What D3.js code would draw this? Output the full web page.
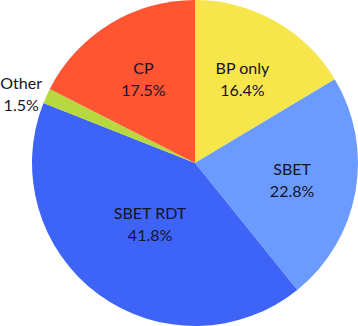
<!DOCTYPE html>
<html><head><meta charset="utf-8">
<script src="https://cdn.jsdelivr.net/npm/d3@7"></script>
<style>html,body{margin:0;padding:0;background:#fff;}svg{display:block;}</style>
</head><body>
<svg id="chart" width="358" height="326"></svg>
<script>
const categories = ["BP only", "SBET", "SBET RDT", "Other", "CP"];
const values = [16.4, 22.8, 41.8, 1.5, 17.5];
const labels = ["16.4%", "22.8%", "41.8%", "1.5%", "17.5%"];
const colors = ["#F6E64C", "#6B9BFF", "#3D64F6", "#B7D83E", "#FF5533"];
const labelRadius = [0.59, 0.605, 0.465, 1.17, 0.605];
const labelShift = [0, 0, 0, 9, 0];

const svg = d3.select("#chart");
const cx = 195, cy = 163, r = 163;
const g = svg.append("g").attr("transform", `translate(${cx},${cy})`);
const pie = d3.pie().sort(null).value(d => d)(values);
const arc = d3.arc().innerRadius(0).outerRadius(r);
g.selectAll("path").data(pie).join("path")
  .attr("d", arc).attr("fill", (d, i) => colors[i]);

const lbl = g.selectAll("text.l").data(pie).join("text")
  .attr("class", "l")
  .attr("text-anchor", "middle")
  .attr("font-family", "Lato, 'Open Sans', sans-serif")
  .attr("font-size", 16)
  .attr("fill", "#141428")
  .attr("transform", (d, i) => {
    const a = (d.startAngle + d.endAngle) / 2;
    const rr = r * labelRadius[i];
    return `translate(${Math.sin(a) * rr},${-Math.cos(a) * rr + labelShift[i]})`;
  });
lbl.append("tspan").attr("x", 0).attr("y", -5).text((d, i) => categories[i]);
lbl.append("tspan").attr("x", 0).attr("y", 17).text((d, i) => labels[i]);
</script>
</body></html>
